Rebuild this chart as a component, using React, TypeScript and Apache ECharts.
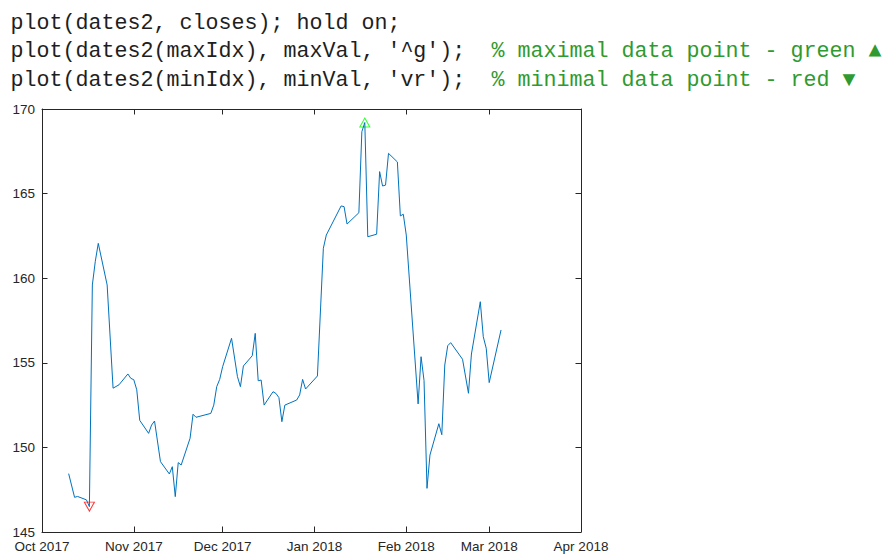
import React, { useEffect, useRef } from "react";
import * as echarts from "echarts";

const dates: string[] = [
  "2017-10-10", "2017-10-12", "2017-10-13", "2017-10-16", "2017-10-17",
  "2017-10-18", "2017-10-19", "2017-10-20", "2017-10-23", "2017-10-25",
  "2017-10-27", "2017-10-30", "2017-10-31", "2017-11-01", "2017-11-02",
  "2017-11-03", "2017-11-06", "2017-11-07", "2017-11-08", "2017-11-10",
  "2017-11-13", "2017-11-14", "2017-11-15", "2017-11-16", "2017-11-17",
  "2017-11-20", "2017-11-21", "2017-11-22", "2017-11-27", "2017-11-28",
  "2017-11-29", "2017-11-30", "2017-12-01", "2017-12-04", "2017-12-06",
  "2017-12-07", "2017-12-08", "2017-12-11", "2017-12-12", "2017-12-13",
  "2017-12-14", "2017-12-15", "2017-12-18", "2017-12-19", "2017-12-20",
  "2017-12-21", "2017-12-22", "2017-12-26", "2017-12-27", "2017-12-28",
  "2017-12-29", "2018-01-02", "2018-01-04", "2018-01-05", "2018-01-10",
  "2018-01-11", "2018-01-12", "2018-01-16", "2018-01-17", "2018-01-18",
  "2018-01-19", "2018-01-22", "2018-01-23", "2018-01-24", "2018-01-25",
  "2018-01-26", "2018-01-29", "2018-01-30", "2018-01-31", "2018-02-01",
  "2018-02-05", "2018-02-06", "2018-02-07", "2018-02-08", "2018-02-09",
  "2018-02-12", "2018-02-13", "2018-02-14", "2018-02-15", "2018-02-16",
  "2018-02-20", "2018-02-22", "2018-02-23", "2018-02-26", "2018-02-27",
  "2018-02-28", "2018-03-01", "2018-03-05",
];

const closes: number[] = [
  148.45, 147.05, 147.1, 146.9, 146.5,
  159.6, 161.0, 162.06, 159.6, 153.5,
  153.7, 154.34, 154.08, 154.0, 153.4,
  151.6, 150.83, 151.32, 151.56, 149.16,
  148.43, 148.86, 147.09, 149.1, 148.96,
  150.54, 151.96, 151.78, 152.01, 152.5,
  153.59, 154.02, 154.77, 156.45, 154.18,
  153.59, 154.81, 155.42, 156.74, 153.94,
  153.98, 152.5, 153.29, 153.19, 152.94,
  151.52, 152.5, 152.8, 153.1, 154.02,
  153.45, 154.22, 161.77, 162.55, 164.27,
  164.23, 163.2, 163.87, 168.66, 169.2,
  162.45, 162.6, 166.3, 165.45, 165.5,
  167.38, 166.87, 163.68, 163.78, 162.55,
  152.57, 155.36, 153.95, 147.58, 149.55,
  151.4, 150.75, 154.87, 156.01, 156.19,
  155.21, 153.2, 155.52, 158.61, 156.54,
  155.86, 153.83, 156.94,
];

const monthTicks: string[] = [
  "2017-10-01", "2017-11-01", "2017-12-01", "2018-01-01",
  "2018-02-01", "2018-03-01", "2018-04-01",
];
const monthNames: string[] = ["Jan", "Feb", "Mar", "Apr", "May", "Jun", "Jul", "Aug", "Sep", "Oct", "Nov", "Dec"];

const codeLines: string[] = [
  "plot(dates2, closes); hold on;",
  "plot(dates2(maxIdx), maxVal, '^g');",
  "plot(dates2(minIdx), minVal, 'vr');",
];
const commentLines: string[] = [
  "",
  "% maximal data point - green \u25B2",
  "% minimal data point - red \u25BC",
];

const ts = (s: string) => {
  const [y, m, d] = s.split("-").map(Number);
  return Date.UTC(y, m - 1, d);
};

export default function App() {
  const ref = useRef<HTMLDivElement>(null);
  useEffect(() => {
    if (!ref.current) return;
    const chart = echarts.init(ref.current, undefined, { renderer: "svg" });
    const maxVal = Math.max(...closes);
    const minVal = Math.min(...closes);
    const maxIdx = closes.indexOf(maxVal);
    const minIdx = closes.indexOf(minVal);
    const tickVals = monthTicks.map(ts);
    const xmin = tickVals[0];
    const xmax = tickVals[tickVals.length - 1];
    const axisColor = "#262626";
    const labelFont = { color: axisColor, fontSize: 13.5, fontFamily: "'Liberation Sans', Arial, sans-serif" };
    const fmt = (v: number) => {
      const d = new Date(v);
      return `${monthNames[d.getUTCMonth()]} ${d.getUTCFullYear()}`;
    };
    const charW = 13;
    const x0 = 10.5;
    const lineYs = [23.5, 51.8, 80.2];
    const graphics: any[] = [];
    codeLines.forEach((t, i) => {
      graphics.push({
        type: "text",
        x: x0,
        y: lineYs[i],
        style: {
          text: t,
          fill: "#1e1e1e",
          font: "21.67px 'Liberation Mono', 'Courier New', monospace",
          verticalAlign: "middle",
          align: "left",
        },
      });
      if (commentLines[i]) {
        graphics.push({
          type: "text",
          x: x0 + 37 * charW,
          y: lineYs[i],
          style: {
            text: commentLines[i],
            fill: "#2f9a2f",
            font: "21.67px 'Liberation Mono', 'Courier New', monospace",
            verticalAlign: "middle",
            align: "left",
          },
        });
      }
    });

    const xAxisBase = {
      type: "value",
      min: xmin,
      max: xmax,
      axisLine: { show: true, onZero: false, lineStyle: { color: axisColor, width: 1 } },
      axisTick: { show: true, inside: true, length: 5.5, customValues: tickVals, lineStyle: { color: axisColor } },
      splitLine: { show: false },
    };
    const yAxisBase = {
      type: "value",
      min: 145,
      max: 170,
      interval: 5,
      axisLine: { show: true, onZero: false, lineStyle: { color: axisColor, width: 1 } },
      axisTick: { show: true, inside: true, length: 5.5, lineStyle: { color: axisColor } },
      splitLine: { show: false },
    };

    chart.setOption({
      animation: false,
      backgroundColor: "#ffffff",
      grid: { left: 42, top: 109, width: 539, height: 423, containLabel: false },
      graphic: graphics,
      xAxis: [
        {
          ...xAxisBase,
          position: "bottom",
          axisLabel: {
            show: true,
            customValues: tickVals,
            formatter: fmt,
            margin: 7,
            showMinLabel: true,
            showMaxLabel: true,
            hideOverlap: false,
            ...labelFont,
          },
        },
        { ...xAxisBase, position: "top", axisLabel: { show: false } },
      ],
      yAxis: [
        {
          ...yAxisBase,
          position: "left",
          axisLabel: {
            show: true,
            margin: 7,
            showMinLabel: true,
            showMaxLabel: true,
            ...labelFont,
          },
        },
        { ...yAxisBase, position: "right", axisLabel: { show: false } },
      ],
      series: [
        {
          type: "line",
          xAxisIndex: 0,
          yAxisIndex: 0,
          data: dates.map((d, i) => [ts(d), closes[i]]),
          showSymbol: false,
          symbol: "none",
          lineStyle: { color: "#0072BD", width: 1 },
          silent: true,
        },
        {
          type: "scatter",
          xAxisIndex: 0,
          yAxisIndex: 0,
          data: [[ts(dates[maxIdx]), maxVal]],
          symbol: "triangle",
          symbolSize: [10, 9],
          itemStyle: { color: "rgba(0,0,0,0)", borderColor: "#00FF00", borderWidth: 1 },
          silent: true,
        },
        {
          type: "scatter",
          xAxisIndex: 0,
          yAxisIndex: 0,
          data: [[ts(dates[minIdx]), minVal]],
          symbol: "triangle",
          symbolRotate: 180,
          symbolSize: [10, 9],
          itemStyle: { color: "rgba(0,0,0,0)", borderColor: "#FF0000", borderWidth: 1 },
          silent: true,
        },
      ],
    });
    return () => chart.dispose();
  }, []);
  return (
    <div
      ref={ref}
      style={{ position: "fixed", left: 0, top: 0, width: 883, height: 554, background: "#fff" }}
    />
  );
}
